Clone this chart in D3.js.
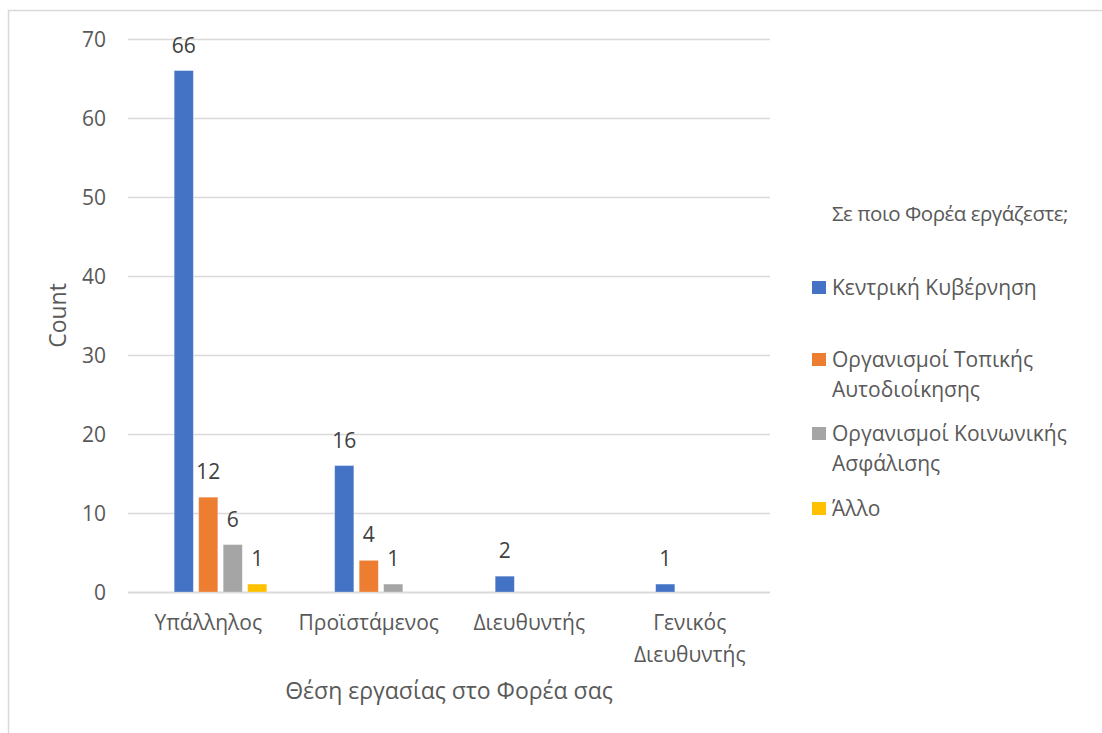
<!DOCTYPE html>
<html>
<head>
<meta charset="utf-8">
<script src="https://cdn.jsdelivr.net/npm/d3@7"></script>
<style>
  html, body { margin: 0; padding: 0; background: #fff; }
  svg { display: block; font-family: "Open Sans", "Noto Sans", sans-serif; }
</style>
</head>
<body>
<svg id="chart" width="1102" height="733"></svg>
<script>
// Positions held (x axis categories); each label may wrap onto two lines
const categories = ["Υπάλληλος", "Προϊστάμενος", "Διευθυντής", "Γενικός Διευθυντής"];
const categoryLines = [["Υπάλληλος"], ["Προϊστάμενος"], ["Διευθυντής"], ["Γενικός", "Διευθυντής"]];

// Employer type (series)
const seriesNames = ["Κεντρική Κυβέρνηση", "Οργανισμοί Τοπικής Αυτοδιοίκησης", "Οργανισμοί Κοινωνικής Ασφάλισης", "Άλλο"];
const seriesLines = [["Κεντρική Κυβέρνηση"], ["Οργανισμοί Τοπικής", "Αυτοδιοίκησης"], ["Οργανισμοί Κοινωνικής", "Ασφάλισης"], ["Άλλο"]];
const seriesColors = ["#4472C4", "#ED7D31", "#A5A5A5", "#FFC000"];

// Counts per series, one value per category (null = no bar)
const centralGov = [66, 16, 2, 1];
const localGov = [12, 4, null, null];
const socialSec = [6, 1, null, null];
const other = [1, null, null, null];
const seriesValues = [centralGov, localGov, socialSec, other];

const yTicks = [0, 10, 20, 30, 40, 50, 60, 70];
const legendTitle = "Σε ποιο Φορέα εργάζεστε;";
const xTitle = "Θέση εργασίας στο Φορέα σας";
const yTitle = "Count";

const FS = "21px";      // labels, ticks, legend
const FS_TITLE = "23px"; // axis titles

const svg = d3.select("#chart");

// outer frame of the chart area
svg.append("path")
  .attr("d", "M8.5,733 V10.5 H1102")
  .attr("fill", "none").attr("stroke", "#d9d9d9").attr("stroke-width", 1.5);

const plot = { left: 128, right: 770, top: 39, bottom: 592 };

const x0 = d3.scaleBand().domain(categories).range([plot.left, plot.right]).padding(0);
// the cluster has five slots centred on the category; the first slot stays empty
const slots = d3.range(5);
const slotSpan = x0.bandwidth() * 0.763;
const x1 = d3.scaleBand().domain(slots).range([-slotSpan / 2, slotSpan / 2]).paddingInner(0.22).paddingOuter(0.11);
const y = d3.scaleLinear().domain([0, 70]).range([plot.bottom, plot.top]);

// gridlines
svg.append("g")
  .selectAll("line").data(yTicks).join("line")
  .attr("x1", plot.left).attr("x2", plot.right)
  .attr("y1", d => y(d) + 0.5).attr("y2", d => y(d) + 0.5)
  .attr("stroke", "#d9d9d9").attr("stroke-width", d => d === 0 ? 2 : 1.5);

// y axis labels
const yAxis = d3.axisLeft(y).tickValues(yTicks).tickSize(0).tickPadding(0);
const yg = svg.append("g").attr("transform", `translate(${plot.left - 22},0)`).call(yAxis);
yg.select(".domain").remove();
yg.selectAll("text").attr("fill", "#595959").style("font-size", FS).attr("dy", "0.36em")
  .style("font-family", "\"Open Sans\", \"Noto Sans\", sans-serif");

// bars
const flat = [];
seriesValues.forEach((vals, si) => vals.forEach((v, ci) => {
  if (v != null) flat.push({ si, cat: categories[ci], v });
}));

svg.append("g").selectAll("rect").data(flat).join("rect")
  .attr("x", d => x0(d.cat) + x0.bandwidth() / 2 + x1(d.si + 1))
  .attr("width", x1.bandwidth())
  .attr("y", d => y(d.v))
  .attr("height", d => y(0) - y(d.v))
  .attr("fill", d => seriesColors[d.si])
  .attr("stroke", "#ffffff").attr("stroke-opacity", 0.35).attr("stroke-width", 0.75);

// value labels
svg.append("g").selectAll("text").data(flat).join("text")
  .attr("x", d => x0(d.cat) + x0.bandwidth() / 2 + x1(d.si + 1) + x1.bandwidth() / 2)
  .attr("y", d => y(d.v) - 18)
  .attr("text-anchor", "middle")
  .attr("fill", "#404040").style("font-size", FS)
  .text(d => d.v);

// x category labels
const xl = svg.append("g").selectAll("text").data(categories).join("text")
  .attr("x", d => x0(d) + x0.bandwidth() / 2)
  .attr("y", 630)
  .attr("text-anchor", "middle")
  .attr("fill", "#595959").style("font-size", FS);
xl.each(function(d, i) {
  d3.select(this).selectAll("tspan").data(categoryLines[i]).join("tspan")
    .attr("x", x0(d) + x0.bandwidth() / 2)
    .attr("dy", (t, j) => j === 0 ? 0 : 32)
    .text(t => t);
});

// axis titles
svg.append("text")
  .attr("x", (plot.left + plot.right) / 2).attr("y", 699)
  .attr("text-anchor", "middle").attr("fill", "#595959").style("font-size", FS_TITLE)
  .text(xTitle);

svg.append("text")
  .attr("transform", `translate(66,${(plot.top + plot.bottom) / 2}) rotate(-90)`)
  .attr("text-anchor", "middle").attr("fill", "#595959").style("font-size", FS_TITLE)
  .text(yTitle);

// legend
const legend = svg.append("g");
legend.append("text")
  .attr("x", 832).attr("y", 221)
  .attr("fill", "#595959").style("font-size", "20.5px").style("letter-spacing", "-0.5px")
  .text(legendTitle);

const legendY = [287, 359, 433, 508];
seriesNames.forEach((name, i) => {
  const g = legend.append("g").attr("transform", `translate(0,${legendY[i]})`);
  g.append("rect").attr("x", 812).attr("y", -6).attr("width", 14).attr("height", 13)
    .attr("fill", seriesColors[i]);
  const t = g.append("text").attr("x", 832).attr("y", 7.5)
    .attr("fill", "#595959").style("font-size", FS);
  t.selectAll("tspan").data(seriesLines[i]).join("tspan")
    .attr("x", 832).attr("dy", (s, j) => j === 0 ? 0 : 30)
    .text(s => s);
});
</script>
</body>
</html>
